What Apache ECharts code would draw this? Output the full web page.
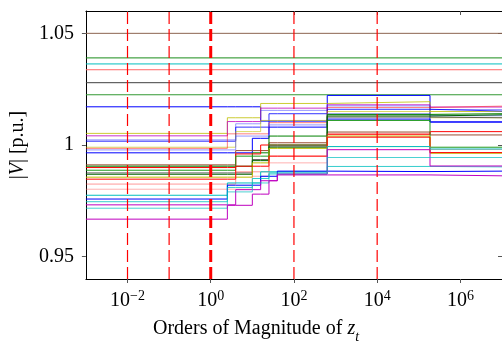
<!DOCTYPE html>
<html>
<head>
  <meta charset="utf-8">
  <title>voltage steps</title>
  <script src="https://cdn.jsdelivr.net/npm/echarts@6/dist/echarts.min.js"></script>
  <style>
    body { margin: 0; padding: 0; background: #fff; }
    #main { width: 502px; height: 341px; }
  </style>
</head>
<body>
<div id="main"></div>
<script>
  // x positions are exponents of z_t (10^e)
  var stepExps = [-3, 0.4, 0.6, 1.0, 1.2, 1.4, 1.6, 2.8, 5.27, 7];
  var xTickExps = [-2, 0, 2, 4, 6];
  var yTicks = [0.95, 1, 1.05];
  var yRange = [0.94, 1.06];
  var markerExps = [-2, -1, 2, 4];
  var boldMarkerExps = [0];

  // buses that never move
  var flatLevels = [1.05, 1.039, 1.0363, 1.0337, 1.0279, 1.0225];
  var flatColors = ['#8c6450', '#1a8c1a', '#00bfbf', '#ff6666', '#404040', '#339933'];

  // buses that step (one value per entry of stepExps)
  var busA = [1.0171, 1.0171, 1.0171, 1.0171, 1.0107, 1.0107, 1.0107, 1.0222, 1.0103, 1.0103];
  var busB = [1.0052, 1.0122, 1.0122, 1.0122, 1.0186, 1.0186, 1.0186, 1.0194, 1.0150, 1.0150];
  var busC = [1.0041, 1.0105, 1.0105, 1.0105, 1.0165, 1.0165, 1.0165, 1.0180, 1.0170, 1.0170];
  var busD = [1.0023, 1.0023, 1.0095, 1.0095, 1.0155, 1.0155, 1.0155, 1.0175, 1.0159, 1.0159];
  var busE = [1.0017, 1.0017, 1.0080, 1.0080, 1.0080, 1.0140, 1.0140, 1.0160, 1.0152, 1.0152];
  var busF = [0.9990, 0.9990, 1.0060, 1.0060, 1.0110, 1.0110, 1.0110, 1.0150, 1.0122, 1.0122];
  var busG = [0.9985, 1.0050, 1.0050, 1.0050, 1.0050, 1.0100, 1.0100, 1.0168, 1.0174, 1.0174];
  var busH = [0.9978, 0.9978, 1.0040, 1.0040, 1.0040, 1.0090, 1.0090, 1.0140, 1.0131, 1.0131];
  var busI = [0.9965, 0.9965, 0.9965, 1.0030, 1.0030, 1.0080, 1.0080, 1.0116, 1.0103, 1.0103];
  var busJ = [0.9911, 0.9911, 0.9975, 0.9975, 0.9975, 1.0010, 1.0010, 1.0058, 1.0045, 1.0045];
  var busK = [0.9905, 0.9905, 0.9905, 0.9965, 0.9965, 1.0040, 1.0040, 1.0137, 1.0140, 1.0140];
  var busL = [0.9899, 0.9899, 0.9960, 0.9960, 1.0000, 1.0000, 1.0000, 1.0048, 1.0060, 1.0060];
  var busM = [0.9887, 0.9887, 0.9950, 0.9950, 0.9950, 1.0000, 1.0000, 1.0110, 0.9990, 0.9990];
  var busN = [0.9875, 0.9875, 0.9875, 0.9935, 0.9935, 0.9995, 0.9995, 1.0125, 1.0122, 1.0122];
  var busO = [0.9869, 0.9869, 0.9869, 0.9930, 0.9930, 0.9990, 0.9990, 1.0130, 1.0135, 1.0135];
  var busP = [0.9856, 0.9856, 0.9856, 0.9920, 0.9920, 0.9985, 0.9985, 1.0040, 0.9963, 0.9963];
  var busQ = [0.9847, 0.9847, 0.9905, 0.9905, 0.9905, 0.9950, 0.9950, 1.0035, 0.9966, 0.9966];
  var busR = [0.9825, 0.9825, 0.9880, 0.9880, 0.9880, 0.9950, 0.9950, 1.0050, 1.0060, 1.0060];
  var busS = [0.9802, 0.9802, 0.9802, 0.9860, 0.9860, 0.9920, 0.9920, 0.9993, 0.9980, 0.9980];
  var busT = [0.9775, 0.9830, 0.9830, 0.9830, 0.9880, 0.9880, 0.9880, 0.9993, 0.9982, 0.9982];
  var busU = [0.9758, 0.9820, 0.9820, 0.9820, 0.9860, 0.9860, 0.9883, 0.9881, 0.9883, 0.9883];
  var busV = [0.9746, 0.9810, 0.9810, 0.9850, 0.9850, 0.9875, 0.9875, 0.9904, 0.9902, 0.9902];
  var busW = [0.9732, 0.9732, 0.9800, 0.9800, 0.9840, 0.9840, 0.9870, 0.9979, 0.9906, 0.9906];
  var busX = [0.9717, 0.9790, 0.9790, 0.9830, 0.9830, 0.9870, 0.9870, 0.9944, 0.9944, 0.9944];
  var busY = [0.9668, 0.9730, 0.9730, 0.9780, 0.9780, 0.9840, 0.9866, 0.9866, 0.9862, 0.9862];

  var stepBuses = [
    [busA, '#0000ff', 1], [busB, '#bfbf00', 0.8], [busC, '#bf00bf', 0.8],
    [busD, '#3333ff', 0.5], [busE, '#0000ff', 0.8], [busF, '#bfbf00', 0.6],
    [busG, '#ff0000', 0.5], [busH, '#4d4dff', 0.6], [busI, '#0000ff', 1],
    [busJ, '#994d33', 1], [busK, '#008000', 1], [busL, '#ff0000', 1],
    [busM, '#1f991f', 1], [busN, '#404040', 0.8], [busO, '#006600', 1],
    [busP, '#bfbf00', 1], [busQ, '#ff0000', 1], [busR, '#ff3333', 0.5],
    [busS, '#ff6666', 0.5], [busT, '#00bfbf', 1], [busU, '#0000ff', 1],
    [busV, '#00bfbf', 0.8], [busW, '#bf00bf', 1], [busX, '#00bfbf', 0.7],
    [busY, '#bf00bf', 1]
  ];

  var font = 'Liberation Serif';
  var series = [];

  flatLevels.forEach(function (v, i) {
    series.push({
      type: 'line', xAxisIndex: 0, yAxisIndex: 0,
      symbol: 'none', silent: true,
      lineStyle: { color: flatColors[i], width: 1 },
      data: [[stepExps[0], v], [stepExps[stepExps.length - 1], v]]
    });
  });

  stepBuses.forEach(function (b) {
    series.push({
      type: 'line', xAxisIndex: 0, yAxisIndex: 0,
      step: 'end', symbol: 'none', silent: true,
      lineStyle: { color: b[1], width: 1, opacity: b[2] },
      data: stepExps.map(function (e, i) { return [e, b[0][i]]; })
    });
  });

  // red dashed markers spanning the whole y range
  function addMarkers(exps, width) {
    exps.forEach(function (e) {
      series.push({
        type: 'line', xAxisIndex: 0, yAxisIndex: 0, z: 10,
        symbol: 'none', silent: true, color: '#ff0000',
        lineStyle: { color: '#ff0000', width: width, type: [12, 5], opacity: 1 },
        data: [[e, yRange[0]], [e, yRange[1]]]
      });
    });
  }
  addMarkers(markerExps, 1.2);
  addMarkers(boldMarkerExps, 3);

  function xAxisOf(pos, inside, withLabel) {
    return {
      type: 'value', position: pos, min: -3, max: 7,
      axisLine: { show: true, onZero: false, lineStyle: { color: '#000', width: 1 } },
      axisTick: { show: true, inside: inside, length: 4, customValues: xTickExps,
        lineStyle: { color: '#555' } },
      axisLabel: {
        show: withLabel, customValues: xTickExps, margin: 10,
        formatter: function (v) {
          return '{b|10}{s|' + (v < 0 ? '\u2212' + (-v) : v) + '}';
        },
        rich: {
          b: { fontFamily: font, fontSize: 20, color: '#000', lineHeight: 24, verticalAlign: 'middle' },
          s: { fontFamily: font, fontSize: 14, color: '#000', lineHeight: 14, verticalAlign: 'top' }
        }
      },
      splitLine: { show: false }
    };
  }

  function yAxisOf(pos, inside, withLabel) {
    return {
      type: 'value', position: pos, min: yRange[0], max: yRange[1],
      axisLine: { show: true, onZero: false, lineStyle: { color: '#000', width: 1 } },
      axisTick: { show: true, inside: inside, length: 4, customValues: yTicks,
        lineStyle: { color: '#555' } },
      axisLabel: {
        show: withLabel, customValues: yTicks, margin: 12,
        fontFamily: font, fontSize: 20, color: '#000'
      },
      splitLine: { show: false }
    };
  }

  var yMain = yAxisOf('left', false, true);
  yMain.name = '|{v|V}| [p.u.]';
  yMain.nameLocation = 'middle';
  yMain.nameRotate = 90;
  yMain.nameGap = 46;
  yMain.nameTextStyle = {
    fontFamily: font, fontSize: 20, color: '#000',
    rich: { v: { fontFamily: font, fontSize: 20, fontStyle: 'italic', color: '#000' } }
  };

  var myChart = echarts.init(document.getElementById('main'), null, { renderer: 'canvas' });
  var option = {
    animation: false,
    backgroundColor: '#fff',
    title: {
      text: 'Orders of Magnitude of {z|z}{t|t}',
      left: 153, top: 314, padding: 0,
      textStyle: {
        fontFamily: font, fontSize: 20, fontWeight: 'normal', color: '#000',
        lineHeight: 30,
        rich: {
          z: { fontFamily: font, fontSize: 20, fontStyle: 'italic', color: '#000', lineHeight: 30 },
          t: { fontFamily: font, fontSize: 14, fontStyle: 'italic', color: '#000', lineHeight: 14, verticalAlign: 'bottom' }
        }
      }
    },
    grid: { left: 84, top: 11, right: -2, bottom: 62, containLabel: false },
    xAxis: [
      xAxisOf('bottom', false, true),
      xAxisOf('top', true, false)
    ],
    yAxis: [
      yMain,
      yAxisOf('right', true, false)
    ],
    series: series
  };
  myChart.setOption(option);
</script>
</body>
</html>
